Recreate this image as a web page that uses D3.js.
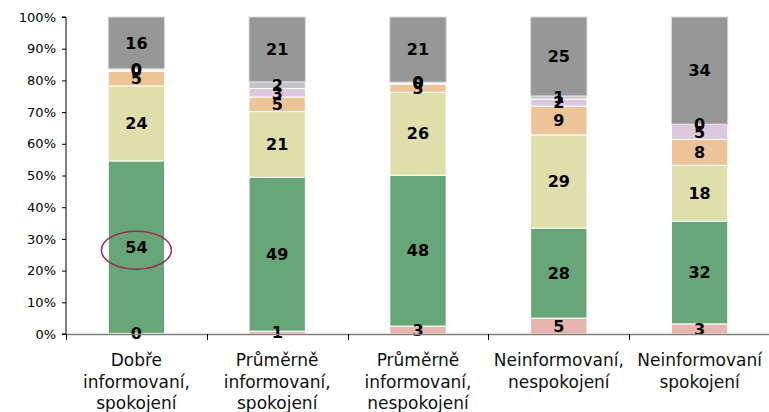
<!DOCTYPE html>
<html><head><meta charset="utf-8">
<script src="https://cdn.jsdelivr.net/npm/d3@7"></script>
<style>body{margin:0;background:#fff}svg{display:block}</style>
</head><body>
<svg id="c" width="769" height="412"></svg>
<script>
const categories = [
  ["Dobře","informovaní,","spokojení"],
  ["Průměrně","informovaní,","spokojení"],
  ["Průměrně","informovaní,","nespokojení"],
  ["Neinformovaní,","nespokojení"],
  ["Neinformovaní","spokojení"]
];
const seriesKeys = ["s1","s2","s3","s4","s5","s6","s7"];
const s1 = [0.2, 0.9, 2.5, 5.0, 3.2];
const s2 = [54.3, 48.6, 47.7, 28.4, 32.4];
const s3 = [23.6, 20.8, 26.2, 29.4, 17.6];
const s4 = [4.6, 4.6, 2.6, 9.1, 8.2];
const s5 = [0.4, 2.7, 0.3, 2.2, 4.7];
const s6 = [0.4, 2.1, 0.3, 1.0, 0.1];
const s7 = [16.3, 20.5, 20.6, 24.9, 33.8];
const colors = ["#E6B5AE","#66A677","#E0DFAB","#EDC497","#DCC8DD","#C4C4C4","#979797"];
const yTicks = [0,0.1,0.2,0.3,0.4,0.5,0.6,0.7,0.8,0.9,1];

const svg = d3.select("#c");
const x0 = 66, yTop = 17, yBot = 334;
const rows = categories.map((c,i)=>({i, s1:s1[i], s2:s2[i], s3:s3[i], s4:s4[i], s5:s5[i], s6:s6[i], s7:s7[i]}));
const stack = d3.stack().keys(seriesKeys).offset(d3.stackOffsetExpand)(rows);

const x = d3.scaleBand().domain(d3.range(categories.length)).range([x0, 770]).padding(0);
const y = d3.scaleLinear().domain([0,1]).range([yBot, yTop]);
const bw = x.bandwidth()*0.4;

const g = svg.append("g");
stack.forEach((layer, k) => {
  g.selectAll(null).data(layer).enter().append("rect")
    .attr("x", (d,i)=>x(i)+x.bandwidth()/2-bw/2)
    .attr("width", bw)
    .attr("y", d=>y(d[1]))
    .attr("height", d=>Math.max(0, y(d[0])-y(d[1])))
    .attr("fill", colors[k])
    .attr("stroke", k===6 ? "#d8d8d8" : "#ffffff")
    .attr("stroke-width", 1);
});

// axes
const yAxis = d3.axisLeft(y).tickValues(yTicks).tickFormat(d3.format(".0%")).tickSize(4).tickPadding(6);
const ya = svg.append("g").attr("transform",`translate(${x0},0)`).call(yAxis);
ya.select(".domain").attr("stroke","#000").attr("d",`M-4,${yTop}H0V${yBot}H-4`);
ya.selectAll(".tick line").attr("stroke","#000");
ya.selectAll("text").attr("font-family","DejaVu Sans, Verdana, sans-serif").attr("font-size","13px").attr("fill","#000");

const xa = svg.append("g").attr("transform",`translate(0,${yBot})`);
xa.append("line").attr("x1",x0).attr("x2",769).attr("y1",0.5).attr("y2",0.5).attr("stroke","#808080").attr("stroke-width",1.5);
d3.range(categories.length+1).forEach(i=>{
  const xx = Math.round(x0 + i*x.bandwidth())+0.5;
  xa.append("line").attr("x1",xx).attr("x2",xx).attr("y1",0).attr("y2",6).attr("stroke","#000");
});
categories.forEach((lines,i)=>{
  const t = xa.append("text").attr("text-anchor","middle")
    .attr("font-family","DejaVu Sans, Verdana, sans-serif").attr("font-size","17px").attr("fill","#111");
  lines.forEach((ln,j)=>{
    t.append("tspan").attr("x", x(i)+x.bandwidth()/2).attr("y", 32 + j*21.5).text(ln);
  });
});

// labels
stack.forEach((layer,k)=>{
  g.selectAll(null).data(layer).enter().append("text")
    .attr("x",(d,i)=>x(i)+x.bandwidth()/2)
    .attr("y",d=>(y(d[0])+y(d[1]))/2)
    .attr("dy","0.36em")
    .attr("text-anchor","middle")
    .attr("font-family","DejaVu Sans, Verdana, sans-serif")
    .attr("font-weight","bold").attr("font-size","16px").attr("fill","#000")
    .text((d,i)=>Math.round(d.data[seriesKeys[k]]));
});

// highlight ellipse around first green value
const gd = stack[1][0];
svg.append("ellipse")
  .attr("cx", x(0)+x.bandwidth()/2).attr("cy",(y(gd[0])+y(gd[1]))/2+3)
  .attr("rx",35).attr("ry",19)
  .attr("fill","none").attr("stroke","#A3235A").attr("stroke-width",1.5);
</script>
</body></html>
